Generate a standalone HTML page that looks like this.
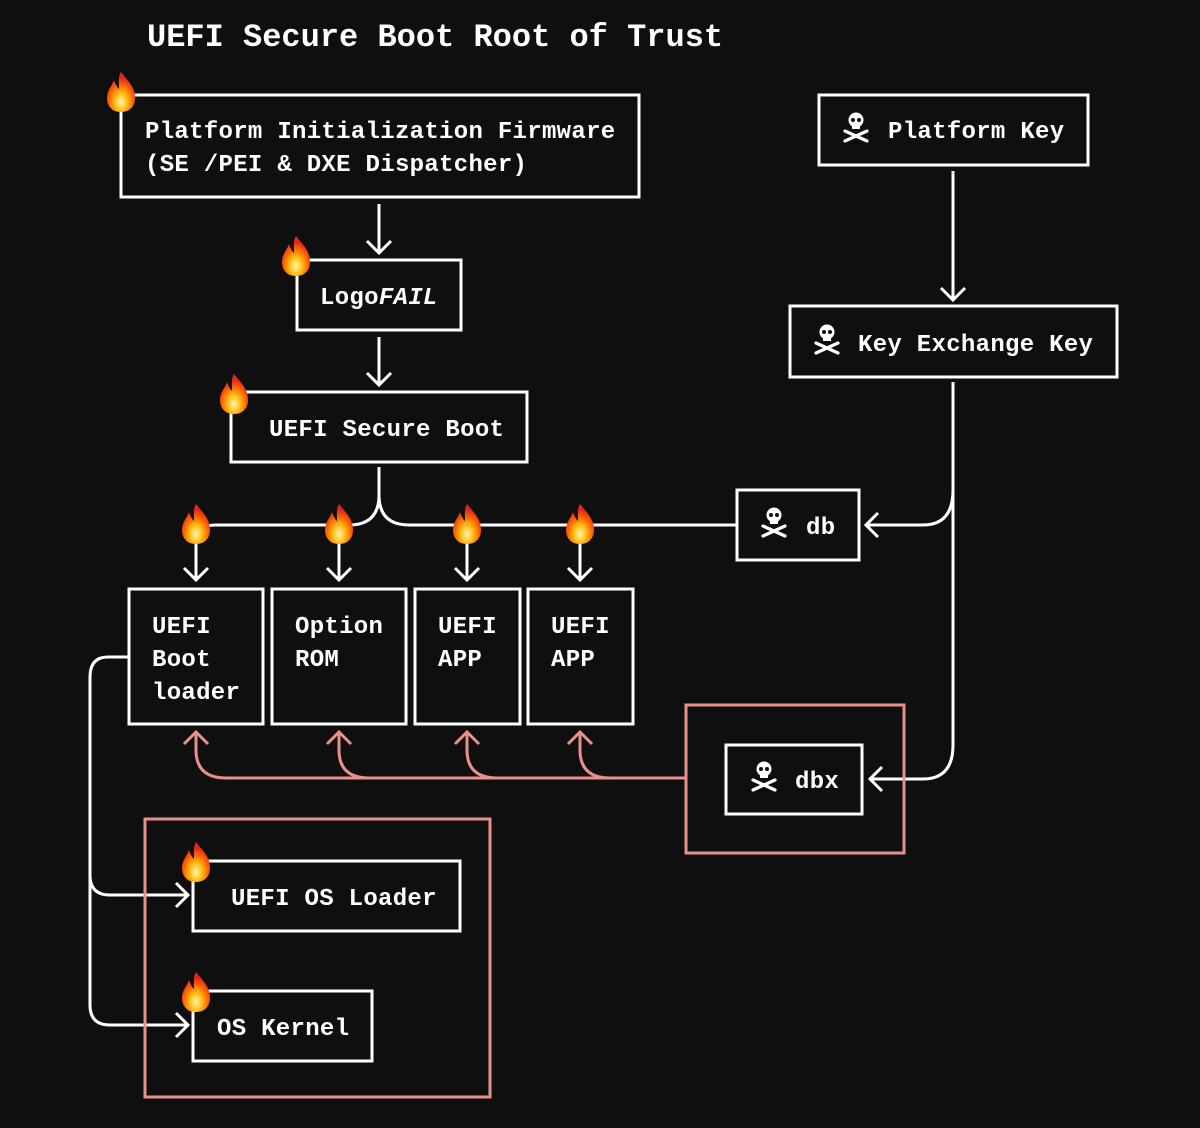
<!DOCTYPE html>
<html><head><meta charset="utf-8"><style>
html,body{margin:0;padding:0;background:#0f0f0f;}
svg{display:block}
text{font-family:"Liberation Mono","DejaVu Sans Mono",monospace;font-weight:bold;fill:#fff;}
</style></head><body>
<svg width="1200" height="1128" viewBox="0 0 1200 1128" xmlns="http://www.w3.org/2000/svg">
<defs>
<radialGradient id="fg" cx="0.5" cy="0.75" r="0.6">
<stop offset="0" stop-color="#fff6b0"/><stop offset="0.35" stop-color="#ffc21a"/><stop offset="0.7" stop-color="#ff6a00"/><stop offset="1" stop-color="#e2261c"/>
</radialGradient>
<g id="fire">
<path d="M0,-20 C6,-12 14,-6 14,6 C14,15 8,20 0,20 C-8,20 -14,15 -14,6 C-14,-2 -9,-6 -7,-12 C-5,-6 -3,-4 -2,-3 C-2,-10 -3,-15 0,-20Z" fill="url(#fg)"/>
</g>
<g id="skull">
<circle cx="0" cy="-6" r="7.5" fill="#fff"/>
<rect x="-4" y="-2" width="8" height="5" fill="#fff"/>
<circle cx="-3" cy="-6" r="2" fill="#0f0f0f"/>
<circle cx="3" cy="-6" r="2" fill="#0f0f0f"/>
<path d="M-11 5L11 15M11 5L-11 15" stroke="#fff" stroke-width="3.2" stroke-linecap="round"/>
</g>
</defs>
<rect width="1200" height="1128" fill="#0f0f0f"/>
<text x="147" y="46" font-size="32">UEFI Secure Boot Root of Trust</text>

<g fill="none" stroke="#fff" stroke-width="3">
<rect x="121" y="95" width="518" height="102"/>
<rect x="297" y="260" width="164" height="70"/>
<rect x="231" y="392" width="296" height="70"/>
<rect x="819" y="95" width="269" height="70"/>
<rect x="790" y="306" width="327" height="71"/>
<rect x="737" y="490" width="122" height="70"/>
<rect x="129" y="589" width="134" height="135"/>
<rect x="272" y="589" width="134" height="135"/>
<rect x="415" y="589" width="105" height="135"/>
<rect x="528" y="589" width="105" height="135"/>
<rect x="726" y="745" width="136" height="69"/>
<rect x="193" y="861" width="267" height="70"/>
<rect x="193" y="991" width="179" height="70"/>
<path d="M379 204V253M367 241L379 253L391 241"/>
<path d="M379 337V385M367 373L379 385L391 373"/>
<path d="M953 171V300M941 288L953 300L965 288"/>
<path d="M379 467V495Q379 525 349 525H215Q196 525 196 545V580M184 568L196 580L208 568"/>
<path d="M379 495Q379 525 409 525H737"/>
<path d="M339 525V580M327 568L339 580L351 568"/>
<path d="M467 525V580M455 568L467 580L479 568"/>
<path d="M580 525V580M568 568L580 580L592 568"/>
<path d="M953 382V745Q953 779 923 779H870M882 767L870 779L882 791"/>
<path d="M953 490Q953 525 923 525H866M878 513L866 525L878 537"/>
<path d="M129 657H108Q90 657 90 677V875Q90 895 110 895H188M176 883L188 895L176 907"/>
<path d="M90 875V1005Q90 1025 110 1025H188M176 1013L188 1025L176 1037"/>
</g>
<g fill="none" stroke="#e8908a" stroke-width="3">
<rect x="686" y="705" width="218" height="148"/>
<rect x="145" y="819" width="345" height="278"/>
<path d="M686 778H226Q196 778 196 750V732M184 744L196 732L208 744"/>
<path d="M369 778Q339 778 339 750V732M327 744L339 732L351 744"/>
<path d="M497 778Q467 778 467 750V732M455 744L467 732L479 744"/>
<path d="M610 778Q580 778 580 750V732M568 744L580 732L592 744"/>
</g>

<g font-size="24" letter-spacing="0.3">
<text x="145" y="138">Platform Initialization Firmware</text>
<text x="145" y="171">(SE /PEI &amp; DXE Dispatcher)</text>
<text x="320" y="304">Logo<tspan font-style="italic">FAIL</tspan></text>
<text x="269" y="436">UEFI Secure Boot</text>
<text x="888" y="138">Platform Key</text>
<text x="858" y="351">Key Exchange Key</text>
<text x="806" y="534">db</text>
<text x="795" y="788">dbx</text>
<text x="152" y="633">UEFI</text><text x="152" y="666">Boot</text><text x="152" y="699">loader</text>
<text x="295" y="633">Option</text><text x="295" y="666">ROM</text>
<text x="438" y="633">UEFI</text><text x="438" y="666">APP</text>
<text x="551" y="633">UEFI</text><text x="551" y="666">APP</text>
<text x="231" y="905">UEFI OS Loader</text>
<text x="217" y="1035">OS Kernel</text>
</g>
<use href="#skull" x="856" y="126"/>
<use href="#skull" x="827" y="338"/>
<use href="#skull" x="774" y="521"/>
<use href="#skull" x="764" y="775"/>

<use href="#fire" x="121" y="92"/>
<use href="#fire" x="296" y="256"/>
<use href="#fire" x="234" y="394"/>
<use href="#fire" x="196" y="524"/>
<use href="#fire" x="339" y="524"/>
<use href="#fire" x="467" y="524"/>
<use href="#fire" x="580" y="524"/>
<use href="#fire" x="196" y="862"/>
<use href="#fire" x="196" y="992"/>
</svg>
</body></html>
